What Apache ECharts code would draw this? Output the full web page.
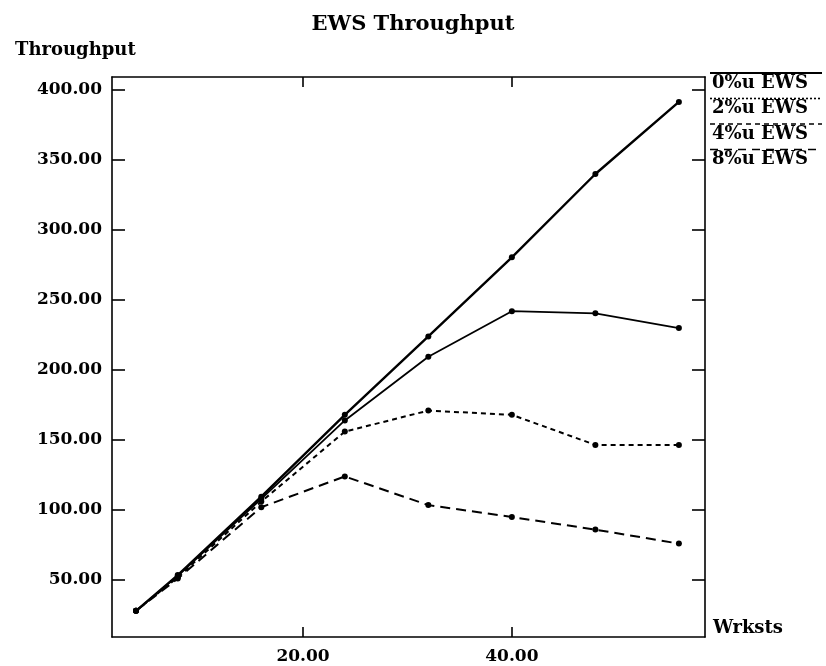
<!DOCTYPE html>
<html>
<head>
<meta charset="utf-8">
<script src="https://cdn.jsdelivr.net/npm/echarts@6/dist/echarts.min.js"></script>
<style>html,body{margin:0;padding:0;background:#fff}#c{width:826px;height:666px}</style>
</head>
<body>
<div id="c"></div>
<script>
var workstations = [4, 8, 16, 24, 32, 40, 48, 56];
var ews0 = [28, 53.5, 109.5, 168, 224, 280.5, 340, 391.5];
var ews2 = [28, 53, 108, 164, 209.5, 242, 240.5, 230];
var ews4 = [28, 52, 106, 156, 171, 168, 146.5, 146.5];
var ews8 = [28, 51, 102, 124, 103.5, 95, 86, 76];
var seriesNames = ['0%u EWS', '2%u EWS', '4%u EWS', '8%u EWS'];
var xTicks = [20, 40];
var yTicks = [50, 100, 150, 200, 250, 300, 350, 400];

var FONT = 'DejaVu Serif';
var styles = [
  {width: 2.4, type: 'solid'},
  {width: 1.8, type: 'solid'},
  {width: 2, type: [5, 4]},
  {width: 2, type: [10, 6]}
];
var legendDash = [null, [2, 2], [5, 4], [8, 6]];
var seriesData = [ews0, ews2, ews4, ews8];

function pairs(arr) { return workstations.map(function (x, i) { return [x, arr[i]]; }); }

var chart = echarts.init(document.getElementById('c'), null, {renderer: 'canvas'});

var axisLineStyle = {color: '#000', width: 1.6};
var xMin = 1.7, xMax = 58.5, yMin = 9.3, yMax = 409.3;

var series = seriesNames.map(function (name, i) {
  return {
    name: name,
    type: 'line',
    data: pairs(seriesData[i]),
    symbol: 'circle',
    symbolSize: 6,
    itemStyle: {color: '#000'},
    lineStyle: {color: '#000', width: styles[i].width, type: styles[i].type},
    animation: false,
    z: 3 - i
  };
});

var legendGraphics = [];
seriesNames.forEach(function (name, i) {
  var y = 73 + i * 25.5;
  legendGraphics.push({
    type: 'line', shape: {x1: 710, y1: y, x2: 822, y2: y},
    style: {stroke: '#000', lineWidth: i === 0 ? 2 : 1.6, lineDash: legendDash[i]}
  });
  legendGraphics.push({
    type: 'text', left: 712, top: y + 1,
    style: {text: name, font: 'bold 18px "' + FONT + '"', fill: '#000'}
  });
});

chart.setOption({
  backgroundColor: '#fff',
  animation: false,
  title: {
    text: 'EWS Throughput', left: 'center', top: 9,
    textStyle: {fontFamily: FONT, fontWeight: 'bold', fontSize: 21, color: '#000'}
  },
  grid: {left: 112, top: 77, right: 121, bottom: 29, containLabel: false},
  xAxis: [{
    type: 'value', min: xMin, max: xMax, position: 'bottom',
    name: 'Wrksts', nameLocation: 'end', nameGap: 8,
    nameTextStyle: {fontFamily: FONT, fontSize: 18, color: '#000', fontWeight: 'bold', padding: [0, 0, 0, 0], verticalAlign: 'bottom'},
    axisLine: {show: true, lineStyle: axisLineStyle},
    axisTick: {show: true, inside: true, length: 10, lineStyle: axisLineStyle, customValues: xTicks},
    axisLabel: {show: true, customValues: xTicks, margin: 11, color: '#000', fontFamily: FONT, fontSize: 17, fontWeight: 'bold',
      formatter: function (v) { return v.toFixed(2); }},
    splitLine: {show: false}
  }, {
    type: 'value', min: xMin, max: xMax, position: 'top',
    axisLine: {show: true, onZero: false, lineStyle: axisLineStyle},
    axisTick: {show: true, inside: true, length: 10, lineStyle: axisLineStyle, customValues: xTicks},
    axisLabel: {show: false},
    splitLine: {show: false}
  }],
  yAxis: [{
    type: 'value', min: yMin, max: yMax, position: 'left',
    name: 'Throughput', nameLocation: 'end', nameGap: 18,
    nameTextStyle: {fontFamily: FONT, fontSize: 18, color: '#000', fontWeight: 'bold', align: 'left', padding: [0, 0, 0, -97]},
    axisLine: {show: true, lineStyle: axisLineStyle},
    axisTick: {show: true, inside: true, length: 13, lineStyle: axisLineStyle, customValues: yTicks},
    axisLabel: {show: true, customValues: yTicks, margin: 10, color: '#000', fontFamily: FONT, fontSize: 17, fontWeight: 'bold',
      formatter: function (v) { return v.toFixed(2); }},
    splitLine: {show: false}
  }, {
    type: 'value', min: yMin, max: yMax, position: 'right',
    axisLine: {show: true, onZero: false, lineStyle: axisLineStyle},
    axisTick: {show: true, inside: true, length: 13, lineStyle: axisLineStyle, customValues: yTicks},
    axisLabel: {show: false},
    splitLine: {show: false}
  }],
  graphic: legendGraphics,
  series: series
});
</script>
</body>
</html>
